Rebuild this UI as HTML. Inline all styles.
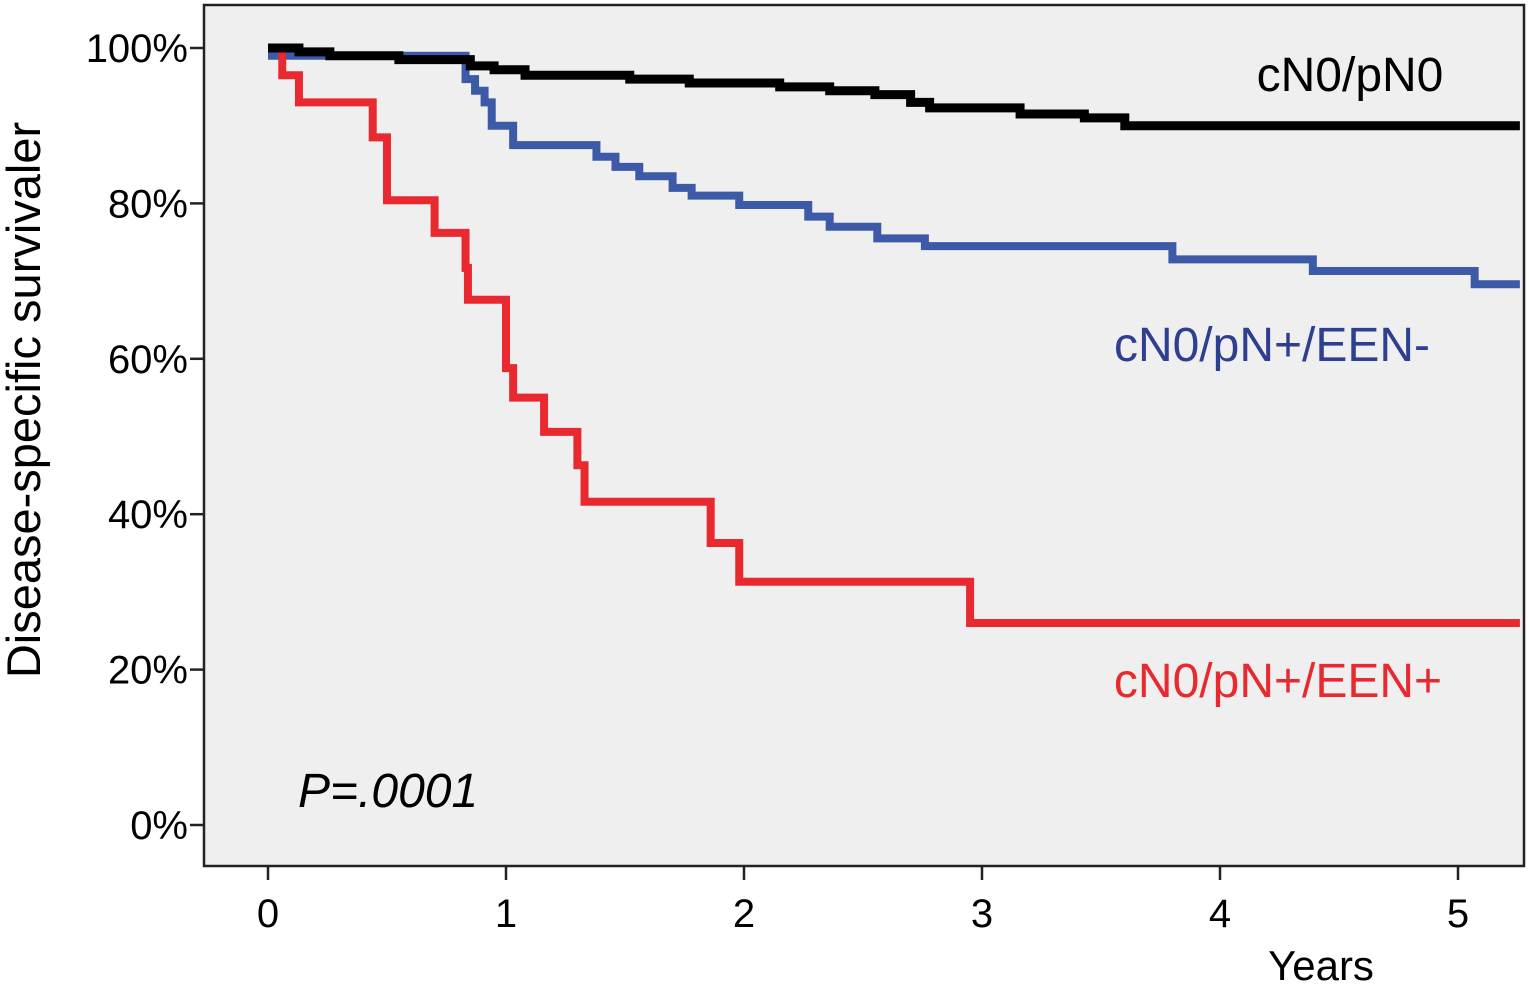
<!DOCTYPE html>
<html><head><meta charset="utf-8"><style>
body{margin:0;background:#fff;width:1529px;height:989px;overflow:hidden}
svg{display:block;font-family:"Liberation Sans",sans-serif}
</style></head><body>
<svg id="chart" width="1529" height="989">
<rect x="204" y="5" width="1320" height="861" fill="#efefef" stroke="#222" stroke-width="2.5"/>
<g id="axes"></g>
<g id="series"></g>
<text x="40" y="400" font-size="47" text-anchor="middle" transform="rotate(-90 40 400)">Disease-specific survivaler</text>
<text x="1321" y="980" font-size="42" text-anchor="middle">Years</text>
<text x="1350" y="91" font-size="48" text-anchor="middle" fill="#000">cN0/pN0</text>
<text x="1272" y="361" font-size="48" text-anchor="middle" fill="#2e3f8f">cN0/pN+/EEN-</text>
<text x="1278" y="697" font-size="48" text-anchor="middle" fill="#e8292f">cN0/pN+/EEN+</text>
<text x="298" y="807" font-size="48" font-style="italic">P=.0001</text>
</svg>
<script>
const xTicks=[0,1,2,3,4,5];
const yTicks=[0,20,40,60,80,100];
const blackT=[0,0.13,0.26,0.55,0.85,0.95,1.08,1.52,1.77,2.15,2.36,2.55,2.70,2.78,3.16,3.43,3.60];
const blackS=[100,99.5,99,98.5,97.7,97.2,96.5,96,95.5,95,94.5,94,93,92.3,91.5,91,90];
const blueT=[0,0.83,0.87,0.91,0.94,1.03,1.38,1.46,1.56,1.70,1.78,1.98,2.27,2.36,2.56,2.76,3.80,4.39,5.07];
const blueS=[99,96,94.5,93,90,87.5,86,84.7,83.5,82,81,79.8,78.3,77,75.5,74.5,72.8,71.3,69.6];
const redT=[0,0.06,0.13,0.44,0.50,0.70,0.83,0.84,1.00,1.03,1.16,1.30,1.33,1.86,1.98,2.95];
const redS=[100,96.5,93,88.5,80.4,76.2,71.7,67.6,58.8,55,50.6,46.3,41.6,36.3,31.3,26];
const xEnd=5.26;
const X=t=>268+t*238, Y=v=>825-v*7.77;
const NS="http://www.w3.org/2000/svg";
const axes=document.getElementById('axes'), ser=document.getElementById('series');
function mk(tag,attrs,parent){const e=document.createElementNS(NS,tag);for(const k in attrs)e.setAttribute(k,attrs[k]);parent.appendChild(e);return e;}
yTicks.forEach(v=>{
  const l=mk('line',{x1:190,x2:204,y1:Y(v),y2:Y(v),stroke:'#222','stroke-width':2.5},axes);
  
  
  const t=mk('text',{x:188,y:Y(v)+14,'font-size':40,'text-anchor':'end'},axes);
  t.textContent=v+'%';
  
  
});
xTicks.forEach(v=>{
  const l=mk('line',{x1:X(v),x2:X(v),y1:866,y2:880,stroke:'#222','stroke-width':2.5},axes);
  
  
  const t=mk('text',{x:X(v),y:927,'font-size':40,'text-anchor':'middle'},axes);
  t.textContent=v;
  
  
});
function step(T,S,color,w,name){
  let d='M'+X(T[0])+','+Y(S[0]);
  for(let i=1;i<T.length;i++){d+=' H'+X(T[i])+' V'+Y(S[i]);}
  d+=' H'+X(xEnd);
  const p=mk('path',{d:d,fill:'none',stroke:color,'stroke-width':w},ser);
  
  
}
step(blueT,blueS,'#3d5aa8',8,'line-een-neg');
step(redT,redS,'#e8292f',8,'line-een-pos');
step(blackT,blackS,'#000',9,'line-cn0-pn0');
</script>
</body></html>
